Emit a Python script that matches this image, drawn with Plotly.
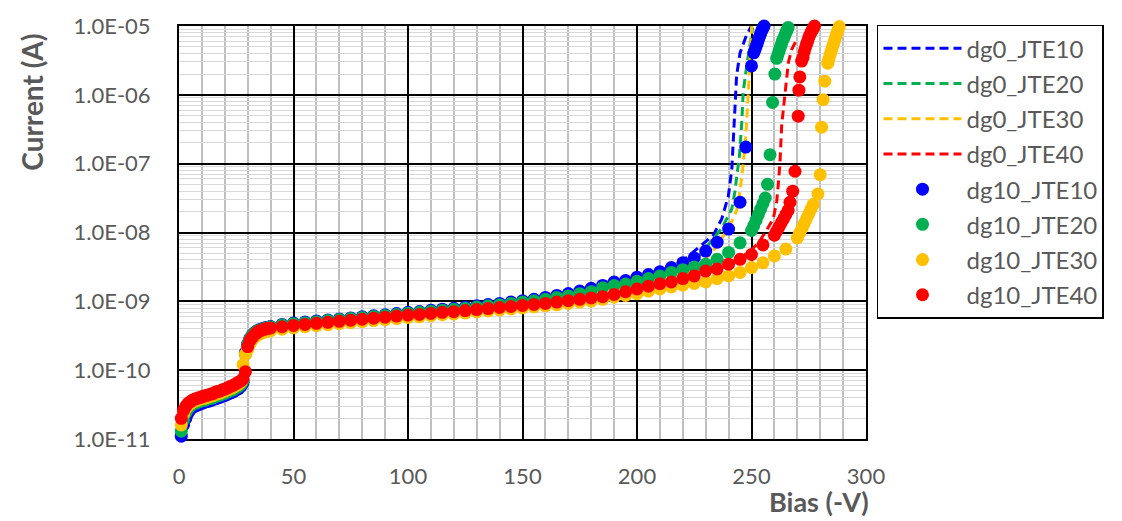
import plotly.graph_objects as go

# ---------------- data ----------------
BIAS_LOW = list(range(1, 41))            # 1 V steps, 1..40 V
BIAS_MID = list(range(45, 205, 5))       # 5 V steps, 45..200 V

# dg10 series (markers)
JTE10_LOW = [1.1e-11, 1.6e-11, 2.0e-11, 2.4e-11, 2.7e-11, 2.9e-11, 3.0e-11, 3.1e-11, 3.2e-11, 3.3e-11,
             3.4e-11, 3.5e-11, 3.55e-11, 3.65e-11, 3.75e-11, 3.85e-11, 3.95e-11, 4.05e-11, 4.2e-11, 4.3e-11,
             4.45e-11, 4.6e-11, 4.75e-11, 4.9e-11, 5.15e-11, 5.4e-11, 5.8e-11, 6.6e-11, 1.8e-10, 2.4e-10,
             2.9e-10, 3.25e-10, 3.5e-10, 3.7e-10, 3.85e-10, 3.95e-10, 4.05e-10, 4.15e-10, 4.2e-10, 4.3e-10]
JTE10_MID = [4.62e-10, 4.84e-10, 5.01e-10, 5.19e-10, 5.37e-10, 5.56e-10, 5.75e-10, 5.96e-10, 6.17e-10, 6.38e-10,
             6.64e-10, 6.92e-10, 7.11e-10, 7.41e-10, 7.69e-10, 7.94e-10, 8.26e-10, 8.61e-10, 8.97e-10, 9.33e-10,
             9.77e-10, 1.02e-9, 1.07e-9, 1.14e-9, 1.22e-9, 1.30e-9, 1.41e-9, 1.55e-9, 1.70e-9, 1.91e-9,
             2.00e-9, 2.24e-9]
JTE10_TAIL_X = [205, 210, 215, 220, 225, 230, 235, 240, 245, 247.5, 250, 251, 251.5, 252, 252.5, 253, 253.5,
                254, 254.5, 255, 255.5]
JTE10_TAIL_Y = [2.45e-9, 2.69e-9, 3.09e-9, 3.63e-9, 4.27e-9, 5.37e-9, 7.24e-9, 1.12e-8, 2.75e-8, 1.74e-7,
                2.63e-6, 4.07e-6, 4.5e-6, 5.0e-6, 5.6e-6, 6.3e-6, 7.0e-6, 7.8e-6, 8.6e-6, 9.3e-6, 1.0e-5]

JTE20_LOW = [1.3e-11, 1.9e-11, 2.4e-11, 2.75e-11, 3.0e-11, 3.2e-11, 3.3e-11, 3.4e-11, 3.5e-11, 3.6e-11,
             3.65e-11, 3.75e-11, 3.85e-11, 3.9e-11, 4.0e-11, 4.15e-11, 4.25e-11, 4.35e-11, 4.5e-11, 4.6e-11,
             4.8e-11, 4.95e-11, 5.1e-11, 5.3e-11, 5.55e-11, 5.8e-11, 6.2e-11, 7.0e-11, 1.7e-10, 2.35e-10,
             2.85e-10, 3.2e-10, 3.45e-10, 3.65e-10, 3.8e-10, 3.9e-10, 4.0e-10, 4.1e-10, 4.15e-10, 4.25e-10]
JTE20_MID = [4.52e-10, 4.73e-10, 4.90e-10, 5.07e-10, 5.25e-10, 5.43e-10, 5.62e-10, 5.82e-10, 6.03e-10, 6.24e-10,
             6.46e-10, 6.71e-10, 6.92e-10, 7.16e-10, 7.41e-10, 7.67e-10, 7.94e-10, 8.26e-10, 8.61e-10, 8.91e-10,
             9.33e-10, 9.77e-10, 1.02e-9, 1.07e-9, 1.14e-9, 1.20e-9, 1.29e-9, 1.38e-9, 1.58e-9, 1.70e-9,
             1.78e-9, 1.95e-9]
JTE20_TAIL_X = [205, 210, 215, 220, 225, 230, 235, 240, 245, 250, 251, 252, 253, 254, 255, 256, 257, 258.1,
                259.2, 260.2, 261, 261.5, 262, 262.5, 263, 263.5, 264, 264.5, 265, 265.5, 266]
JTE20_TAIL_Y = [2.14e-9, 2.34e-9, 2.63e-9, 2.88e-9, 3.16e-9, 3.47e-9, 4.07e-9, 5.13e-9, 7.08e-9, 1.07e-8,
                1.26e-8, 1.51e-8, 1.82e-8, 2.19e-8, 2.63e-8, 3.16e-8, 5.01e-8, 1.35e-7, 7.76e-7, 2.0e-6,
                3.39e-6, 3.8e-6, 4.27e-6, 4.79e-6, 5.37e-6, 6.03e-6, 6.61e-6, 7.24e-6, 7.94e-6, 8.71e-6, 9.55e-6]

JTE30_LOW = [1.6e-11, 2.3e-11, 2.75e-11, 3.05e-11, 3.25e-11, 3.45e-11, 3.55e-11, 3.65e-11, 3.75e-11, 3.85e-11,
             3.9e-11, 4.0e-11, 4.1e-11, 4.2e-11, 4.3e-11, 4.45e-11, 4.55e-11, 4.65e-11, 4.85e-11, 4.95e-11,
             5.15e-11, 5.3e-11, 5.5e-11, 5.7e-11, 6.0e-11, 6.25e-11, 6.7e-11, 1.2e-10, 1.7e-10, 2.0e-10,
             2.4e-10, 2.75e-10, 3.0e-10, 3.2e-10, 3.35e-10, 3.45e-10, 3.55e-10, 3.65e-10, 3.7e-10, 3.75e-10]
JTE30_MID = [3.94e-10, 4.12e-10, 4.27e-10, 4.42e-10, 4.57e-10, 4.73e-10, 4.90e-10, 5.07e-10, 5.25e-10, 5.43e-10,
             5.62e-10, 5.82e-10, 5.96e-10, 6.17e-10, 6.38e-10, 6.53e-10, 6.76e-10, 7.00e-10, 7.24e-10, 7.50e-10,
             7.76e-10, 8.04e-10, 8.32e-10, 8.61e-10, 8.91e-10, 9.33e-10, 9.77e-10, 1.01e-9, 1.07e-9, 1.15e-9,
             1.22e-9, 1.29e-9]
JTE30_TAIL_X = [205, 210, 215, 220, 225, 230, 235, 240, 245, 250, 255, 260, 265, 270, 271, 272, 273, 274, 275,
                276, 277, 279, 280, 280.6, 281.3, 282, 283.3, 283.8, 284.3, 284.8, 285.3, 285.8, 286.3, 286.8,
                287.3, 287.8, 288.3]
JTE30_TAIL_Y = [1.40e-9, 1.51e-9, 1.62e-9, 1.72e-9, 1.82e-9, 1.91e-9, 2.14e-9, 2.34e-9, 2.63e-9, 3.09e-9,
                3.63e-9, 4.57e-9, 5.75e-9, 8.32e-9, 9.77e-9, 1.15e-8, 1.35e-8, 1.58e-8, 1.86e-8, 2.19e-8,
                2.57e-8, 3.63e-8, 6.92e-8, 3.39e-7, 8.51e-7, 1.58e-6, 2.88e-6, 3.3e-6, 3.8e-6, 4.3e-6,
                4.9e-6, 5.5e-6, 6.2e-6, 7.0e-6, 7.9e-6, 8.8e-6, 9.8e-6]

JTE40_LOW = [2.0e-11, 2.6e-11, 3.0e-11, 3.3e-11, 3.5e-11, 3.7e-11, 3.8e-11, 3.9e-11, 4.0e-11, 4.1e-11,
             4.2e-11, 4.3e-11, 4.4e-11, 4.5e-11, 4.6e-11, 4.8e-11, 4.9e-11, 5.0e-11, 5.2e-11, 5.3e-11,
             5.5e-11, 5.7e-11, 5.9e-11, 6.1e-11, 6.4e-11, 6.7e-11, 7.0e-11, 7.5e-11, 9.5e-11, 2.2e-10,
             2.7e-10, 3.0e-10, 3.3e-10, 3.5e-10, 3.7e-10, 3.8e-10, 3.9e-10, 4.0e-10, 4.05e-10, 4.1e-10]
JTE40_MID = [4.27e-10, 4.47e-10, 4.62e-10, 4.79e-10, 4.95e-10, 5.13e-10, 5.31e-10, 5.50e-10, 5.69e-10, 5.89e-10,
             6.10e-10, 6.31e-10, 6.46e-10, 6.68e-10, 6.92e-10, 7.08e-10, 7.33e-10, 7.59e-10, 7.85e-10, 8.13e-10,
             8.41e-10, 8.71e-10, 9.02e-10, 9.33e-10, 9.77e-10, 1.02e-9, 1.07e-9, 1.12e-9, 1.17e-9, 1.26e-9,
             1.38e-9, 1.51e-9]
JTE40_TAIL_X = [205, 210, 215, 220, 225, 230, 235, 240, 245, 250, 255, 260, 261, 262, 263, 264, 265, 266,
                266.8, 268, 269, 270.4, 270.7, 271.1, 271.9, 272.5, 273, 273.5, 274, 274.5, 275, 275.5, 276,
                276.5, 277, 277.5]
JTE40_TAIL_Y = [1.66e-9, 1.80e-9, 1.91e-9, 2.14e-9, 2.34e-9, 2.75e-9, 2.95e-9, 3.47e-9, 4.07e-9, 4.79e-9,
                6.61e-9, 9.12e-9, 1.05e-8, 1.20e-8, 1.38e-8, 1.58e-8, 1.82e-8, 2.09e-8, 2.75e-8, 3.98e-8,
                7.76e-8, 4.9e-7, 1.17e-6, 1.82e-6, 3.09e-6, 3.5e-6, 4.2e-6, 4.8e-6, 5.4e-6, 6.0e-6, 6.8e-6,
                7.4e-6, 8.1e-6, 8.7e-6, 9.3e-6, 1.0e-5]

# dg0 series (dashed lines)
DG0_X_LOW = [1, 2, 3, 5, 8, 12, 16, 20, 24, 27, 28, 29, 30, 32, 35, 40, 50, 75, 100, 125, 150, 175, 200]
DG0_JTE10_LOW = [1.1e-11, 1.6e-11, 2.0e-11, 2.7e-11, 3.1e-11, 3.5e-11, 3.85e-11, 4.3e-11, 4.9e-11, 5.8e-11,
                 6.6e-11, 1.8e-10, 2.4e-10, 3.25e-10, 3.85e-10, 4.3e-10, 4.84e-10, 5.75e-10, 6.92e-10, 8.26e-10,
                 1.02e-9, 1.41e-9, 2.24e-9]
DG0_JTE10_TAIL_X = [210, 220, 227.5, 233.3, 237, 239.9, 241.4, 242.1, 242.8, 243.5, 245, 247.5, 249.8]
DG0_JTE10_TAIL_Y = [2.75e-9, 3.9e-9, 6.3e-9, 9.1e-9, 1.58e-8, 3.39e-8, 8.3e-8, 2.19e-7, 6.46e-7, 1.91e-6,
                    4.07e-6, 6.9e-6, 9.8e-6]
DG0_JTE20_LOW = [1.3e-11, 1.9e-11, 2.4e-11, 3.0e-11, 3.4e-11, 3.75e-11, 4.15e-11, 4.6e-11, 5.3e-11, 6.2e-11,
                 7.0e-11, 1.7e-10, 2.35e-10, 3.2e-10, 3.8e-10, 4.25e-10, 4.73e-10, 5.62e-10, 6.71e-10, 7.94e-10,
                 9.77e-10, 1.29e-9, 1.95e-9]
DG0_JTE20_TAIL_X = [210, 220, 227, 231.9, 237, 241.4, 242.8, 243.5, 244.7, 245.7, 246.4, 247.9, 249.4, 250.5]
DG0_JTE20_TAIL_Y = [2.5e-9, 3.3e-9, 4.5e-9, 7.1e-9, 1.15e-8, 2.19e-8, 4.0e-8, 6.3e-8, 1.26e-7, 3.72e-7,
                    1.12e-6, 2.63e-6, 5.62e-6, 9.5e-6]
DG0_JTE30_LOW = [1.6e-11, 2.3e-11, 2.75e-11, 3.25e-11, 3.65e-11, 4.0e-11, 4.45e-11, 4.95e-11, 5.7e-11, 6.7e-11,
                 1.2e-10, 1.7e-10, 2.0e-10, 2.75e-10, 3.35e-10, 3.75e-10, 4.12e-10, 4.90e-10, 5.82e-10, 6.76e-10,
                 8.04e-10, 9.77e-10, 1.29e-9]
DG0_JTE30_TAIL_X = [210, 220, 228, 234.7, 237.7, 240.6, 243.5, 245, 246.4, 247.5, 248.3, 249, 249.6, 250.1]
DG0_JTE30_TAIL_Y = [1.7e-9, 2.2e-9, 3.5e-9, 6.3e-9, 8.9e-9, 1.26e-8, 2.09e-8, 3.98e-8, 1.0e-7, 2.5e-7,
                    7.1e-7, 2.24e-6, 5.6e-6, 1.0e-5]
DG0_JTE40_LOW = [2.0e-11, 2.6e-11, 3.0e-11, 3.5e-11, 3.9e-11, 4.3e-11, 4.8e-11, 5.3e-11, 6.1e-11, 7.0e-11,
                 7.5e-11, 9.5e-11, 2.2e-10, 3.0e-10, 3.7e-10, 4.1e-10, 4.47e-10, 5.31e-10, 6.31e-10, 7.33e-10,
                 8.71e-10, 1.07e-9, 1.51e-9]
DG0_JTE40_TAIL_X = [210, 220, 230, 240, 245, 250, 253, 256, 259.5, 261, 261.7, 262.4, 263.2, 264.7, 266.1,
                    267.5, 269.3]
DG0_JTE40_TAIL_Y = [1.85e-9, 2.2e-9, 2.8e-9, 3.5e-9, 4.2e-9, 5.6e-9, 7.1e-9, 1.0e-8, 1.58e-8, 2.8e-8, 5.0e-8,
                    1.0e-7, 3.7e-7, 1.12e-6, 2.95e-6, 4.5e-6, 6.0e-6]

Y_TICKS = [1e-11, 1e-10, 1e-9, 1e-8, 1e-7, 1e-6, 1e-5]
Y_TICK_TEXT = ["1.0E-11", "1.0E-10", "1.0E-09", "1.0E-08", "1.0E-07", "1.0E-06", "1.0E-05"]
X_TICKS = [0, 50, 100, 150, 200, 250, 300]

COLORS = {"JTE10": "#0000FF", "JTE20": "#00B050", "JTE30": "#FFC000", "JTE40": "#FF0000"}

# ---------------- figure ----------------
FONT = "Lato, 'Open Sans', sans-serif"
TXT = "#595959"

fig = go.Figure()

dashed = [
    ("dg0_JTE10", "JTE10", DG0_X_LOW + DG0_JTE10_TAIL_X, DG0_JTE10_LOW + DG0_JTE10_TAIL_Y),
    ("dg0_JTE20", "JTE20", DG0_X_LOW + DG0_JTE20_TAIL_X, DG0_JTE20_LOW + DG0_JTE20_TAIL_Y),
    ("dg0_JTE30", "JTE30", DG0_X_LOW + DG0_JTE30_TAIL_X, DG0_JTE30_LOW + DG0_JTE30_TAIL_Y),
    ("dg0_JTE40", "JTE40", DG0_X_LOW + DG0_JTE40_TAIL_X, DG0_JTE40_LOW + DG0_JTE40_TAIL_Y),
]
for name, key, xs, ys in dashed:
    fig.add_trace(go.Scatter(x=xs, y=ys, mode="lines", name=name, legendgroup=name,
                             line=dict(color=COLORS[key], width=3, dash="9px,5px"),
                             cliponaxis=False))

dots = [
    ("dg10_JTE10", "JTE10", JTE10_LOW + JTE10_MID + JTE10_TAIL_Y, JTE10_TAIL_X),
    ("dg10_JTE20", "JTE20", JTE20_LOW + JTE20_MID + JTE20_TAIL_Y, JTE20_TAIL_X),
    ("dg10_JTE30", "JTE30", JTE30_LOW + JTE30_MID + JTE30_TAIL_Y, JTE30_TAIL_X),
    ("dg10_JTE40", "JTE40", JTE40_LOW + JTE40_MID + JTE40_TAIL_Y, JTE40_TAIL_X),
]
for name, key, ys, tailx in dots:
    xs = BIAS_LOW + BIAS_MID + tailx
    fig.add_trace(go.Scatter(x=xs, y=ys, mode="markers", name=name, legendgroup=name,
                             marker=dict(color=COLORS[key], size=13, line=dict(width=0)),
                             cliponaxis=False))

minor_y = [m * 10.0 ** e for e in range(-11, -5) for m in range(2, 10)]

fig.update_layout(
    width=1122, height=521,
    margin=dict(l=179, r=256, t=16, b=82),
    paper_bgcolor="white", plot_bgcolor="white",
    font=dict(family=FONT, size=22, color=TXT),
    showlegend=True,
    legend=dict(x=1.016, y=1.003, xanchor="left", yanchor="top",
                bgcolor="white", bordercolor="black", borderwidth=1.5,
                font=dict(family=FONT, size=24, color=TXT),
                tracegroupgap=1, itemwidth=78, maxheight=340),
    xaxis=dict(range=[0, 300], tickvals=X_TICKS, showgrid=True, gridcolor="black", gridwidth=2,
               minor=dict(dtick=10, showgrid=True, gridcolor="#BFBFBF", gridwidth=1.5),
               showline=True, linecolor="black", linewidth=2, mirror=True, zeroline=False,
               ticks="", ticklabelstandoff=17, layer="below traces",
               tickfont=dict(family=FONT, size=22, color=TXT)),
    yaxis=dict(type="log", range=[-11, -5], tickvals=Y_TICKS, ticktext=Y_TICK_TEXT,
               showgrid=True, gridcolor="black", gridwidth=2,
               minor=dict(tickvals=minor_y, showgrid=True, gridcolor="#D9D9D9", gridwidth=1.2),
               showline=True, linecolor="black", linewidth=2, mirror=True, zeroline=False,
               ticks="", ticklabelstandoff=22, layer="below traces",
               tickfont=dict(family=FONT, size=22, color=TXT)),
    annotations=[
        dict(text="<b>Current (A)</b>", xref="paper", yref="paper", x=-0.2132, y=0.8156,
             textangle=-90, showarrow=False, xanchor="center", yanchor="middle",
             font=dict(family=FONT, size=28, color=TXT)),
        dict(text="<b>Bias (-V)</b>", xref="paper", yref="paper", x=0.9316, y=-0.1525,
             showarrow=False, xanchor="center", yanchor="middle",
             font=dict(family=FONT, size=27, color=TXT)),
    ],
)

fig.write_html("out.html")
